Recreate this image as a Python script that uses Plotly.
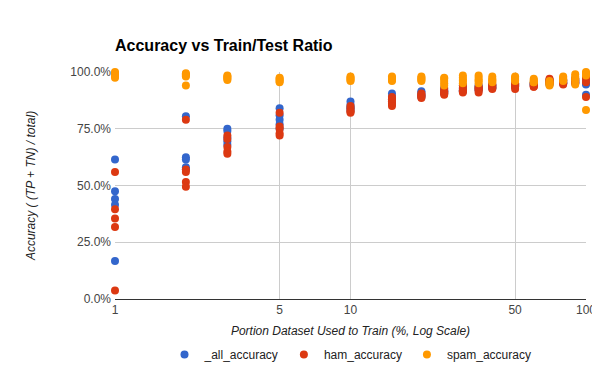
import plotly.graph_objects as go

train_pct = [1, 2, 3, 5, 10, 15, 20, 25, 30, 35, 40, 50, 60, 70, 80, 90, 100]

all_accuracy = [
    [61.5, 47.5, 44.0, 41.5, 16.7],
    [80.5, 62.5, 61.5, 58.0, 57.0],
    [75.0, 74.0, 71.0, 69.5, 68.0],
    [84.0, 81.0, 79.0, 77.0, 75.0],
    [87.0, 85.5, 84.5, 84.0, 83.0],
    [90.5, 89.0, 88.0, 87.0, 86.0],
    [91.5, 91.0, 90.0, 89.5, 89.0],
    [93.0, 92.0, 91.5, 91.0, 90.5],
    [94.0, 93.0, 92.5, 92.0, 91.5],
    [94.0, 93.5, 93.0, 92.5, 92.0],
    [94.5, 94.0, 93.5, 93.0, 93.0],
    [95.0, 94.5, 94.0, 93.5, 93.5],
    [95.5, 95.0, 94.5, 94.5, 94.0],
    [96.5, 96.0, 95.5, 95.0, 94.5],
    [96.5, 96.0, 95.5, 95.0, 95.0],
    [97.0, 96.5, 96.0, 95.5, 95.0],
    [98.0, 96.5, 95.0, 94.5, 90.0],
]

ham_accuracy = [
    [56.0, 39.5, 35.5, 31.7, 3.7],
    [79.0, 57.0, 56.0, 51.5, 49.5],
    [72.0, 70.5, 67.0, 65.0, 64.0],
    [82.0, 76.0, 75.0, 73.0, 72.0],
    [85.0, 84.0, 83.0, 82.5, 82.0],
    [89.0, 88.0, 87.0, 86.0, 85.0],
    [90.5, 90.0, 89.5, 89.0, 88.5],
    [92.5, 91.5, 91.0, 90.5, 90.0],
    [94.0, 93.0, 92.0, 91.5, 91.0],
    [93.5, 93.0, 92.5, 92.0, 91.0],
    [94.5, 94.0, 93.5, 93.0, 92.5],
    [95.0, 94.5, 94.0, 93.5, 92.5],
    [95.0, 94.5, 94.0, 93.5, 93.5],
    [97.0, 96.5, 96.0, 95.5, 95.0],
    [96.5, 96.0, 95.5, 95.0, 94.5],
    [97.0, 96.5, 96.0, 95.5, 95.0],
    [99.0, 98.0, 97.0, 95.5, 89.0],
]

spam_accuracy = [
    [100.0, 99.5, 99.0, 98.0, 97.5],
    [99.5, 99.0, 98.5, 98.0, 94.0],
    [98.5, 98.0, 97.5, 97.0, 96.5],
    [97.5, 97.0, 96.5, 96.0, 95.5],
    [98.0, 97.5, 97.0, 96.5, 96.0],
    [98.0, 97.5, 97.0, 96.5, 96.0],
    [98.0, 97.5, 97.0, 96.5, 96.0],
    [97.5, 97.0, 96.0, 95.0, 94.0],
    [98.5, 97.5, 96.5, 96.0, 95.0],
    [98.5, 97.5, 96.5, 96.0, 95.0],
    [98.0, 97.0, 96.5, 96.0, 95.5],
    [98.0, 97.5, 97.0, 96.5, 96.0],
    [97.0, 96.5, 96.0, 95.5, 95.5],
    [96.0, 95.5, 95.0, 94.5, 94.0],
    [98.0, 97.5, 97.0, 96.5, 96.0],
    [99.0, 98.0, 97.0, 96.0, 94.5],
    [100.0, 99.5, 99.0, 98.5, 83.3],
]

series = [
    ("_all_accuracy", all_accuracy, "#3366cc"),
    ("ham_accuracy", ham_accuracy, "#dc3912"),
    ("spam_accuracy", spam_accuracy, "#ff9900"),
]

x_ticks = [1, 5, 10, 50, 100]
x_tick_labels = ["1", "5", "10", "50", "100"]
y_ticks = [0, 0.25, 0.5, 0.75, 1.0]

FONT = "Liberation Sans, Arial, sans-serif"

# The page body adds an 8px offset, so the figure is sized to fit the window.
W, H = 592, 363

fig = go.Figure()
for name, vals, color in series:
    xs, ys = [], []
    for xv, group in zip(train_pct, vals):
        for v in group:
            xs.append(xv)
            ys.append(v / 100.0)
    fig.add_trace(go.Scatter(
        x=xs, y=ys, mode="markers", name=name,
        marker=dict(color=color, size=8, line=dict(width=0)),
        cliponaxis=False,
    ))

fig.update_layout(
    width=W, height=H,
    margin=dict(l=107, r=14, t=64, b=72, autoexpand=False),
    paper_bgcolor="white", plot_bgcolor="white",
    font=dict(family=FONT, size=12, color="#444444"),
    title=dict(text="<b>Accuracy vs Train/Test Ratio</b>", x=107/W, xanchor="left",
               y=1 - 37/H, yanchor="middle",
               font=dict(family=FONT, size=16, color="#000000")),
    showlegend=True,
    legend=dict(orientation="h", x=0.5, xanchor="center", y=-0.245, yanchor="middle",
                font=dict(family=FONT, size=12, color="#222222"),
                itemsizing="trace"),
)
fig.update_xaxes(
    type="log", range=[0, 2], automargin=False,
    tickvals=x_ticks, ticktext=x_tick_labels,
    showgrid=True, gridcolor="#cccccc", gridwidth=1,
    showline=True, linecolor="#333333", linewidth=1,
    zeroline=False, ticks="",
    tickfont=dict(family=FONT, size=12, color="#444444"),
    title=dict(text="<i>Portion Dataset Used to Train (%, Log Scale)</i>", standoff=10,
               font=dict(family=FONT, size=12, color="#222222")),
)
fig.update_yaxes(
    range=[0, 1.0], tickvals=y_ticks, tickformat=".1%", automargin=False,
    showgrid=True, gridcolor="#cccccc", gridwidth=1,
    showline=False, zeroline=False, ticks="", ticklabelstandoff=3,
    tickfont=dict(family=FONT, size=12, color="#444444"),
    title=dict(text="<i>Accuracy ( (TP + TN) / total)</i>", standoff=32,
               font=dict(family=FONT, size=12, color="#222222")),
)

fig.write_html("out.html")
